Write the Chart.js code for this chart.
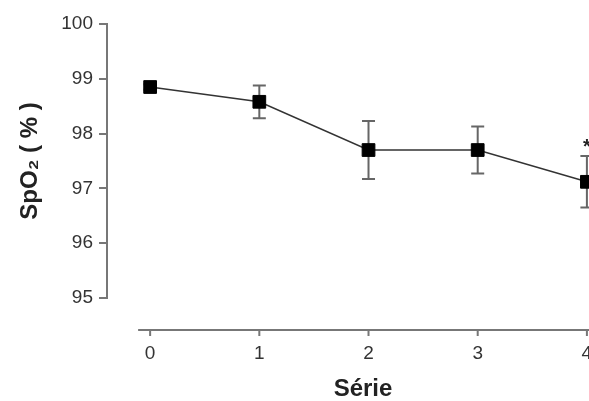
<!DOCTYPE html>
<html>
<head>
<meta charset="utf-8">
<style>
  html, body { margin: 0; padding: 0; background: #fff; overflow: hidden; width: 589px; height: 401px; }
  canvas { display: block; }
</style>
</head>
<body>
<!-- the plot runs a bit past the right edge, like the cropped original -->
<canvas id="spo2Chart" width="629" height="401"></canvas>
<script src="https://cdn.jsdelivr.net/npm/chart.js"></script>
<script>
  const series = [0, 1, 2, 3, 4]
  const spo2 = [98.85, 98.58, 97.70, 97.70, 97.12]
  const sem = [0.05, 0.30, 0.53, 0.43, 0.47]
  const starred = [false, false, false, false, true]
  const xTicks = [0, 1, 2, 3, 4]
  const yTicks = [95, 96, 97, 98, 99, 100]

  ;(() => {
    const ctx = document.getElementById('spo2Chart').getContext('2d')
    const font = "'Liberation Sans', Arial, Helvetica, sans-serif"

    // error bars under the markers, asterisk on top
    const errorBars = {
      id: 'errorBars',
      beforeDatasetsDraw(chart) {
        const { ctx, scales: { x, y } } = chart
        ctx.save()
        ctx.strokeStyle = '#666'
        ctx.lineWidth = 2
        series.forEach((s, i) => {
          const px = x.getPixelForValue(s)
          const top = y.getPixelForValue(spo2[i] + sem[i])
          const bot = y.getPixelForValue(spo2[i] - sem[i])
          ctx.beginPath()
          ctx.moveTo(px, top); ctx.lineTo(px, bot)
          ctx.moveTo(px - 6.5, top); ctx.lineTo(px + 6.5, top)
          ctx.moveTo(px - 6.5, bot); ctx.lineTo(px + 6.5, bot)
          ctx.stroke()
        })
        ctx.restore()
      },
      afterDatasetsDraw(chart) {
        const { ctx, scales: { x, y } } = chart
        ctx.save()
        ctx.fillStyle = '#222'
        ctx.font = 'bold 20px ' + font
        ctx.textAlign = 'center'
        ctx.textBaseline = 'middle'
        series.forEach((s, i) => {
          if (!starred[i]) return
          ctx.fillText('*', x.getPixelForValue(s), y.getPixelForValue(spo2[i] + sem[i]) - 9)
        })
        ctx.restore()
      }
    }

    // detached x axis line below the plot
    const xAxisLine = {
      id: 'xAxisLine',
      afterDraw(chart) {
        const { ctx, chartArea, scales: { x } } = chart
        const yy = chartArea.bottom + 32
        ctx.save()
        ctx.strokeStyle = '#777'
        ctx.lineWidth = 2
        ctx.beginPath()
        ctx.moveTo(x.getPixelForValue(-0.11), yy)
        ctx.lineTo(chart.width, yy)
        xTicks.forEach(t => {
          const px = x.getPixelForValue(t)
          ctx.moveTo(px, yy); ctx.lineTo(px, yy + 6)
        })
        ctx.stroke()
        ctx.restore()
      }
    }

    new Chart(ctx, {
      type: 'line',
      data: {
        datasets: [{
          data: series.map((s, i) => ({ x: s, y: spo2[i] })),
          borderColor: '#333',
          borderWidth: 1.5,
          pointStyle: 'rect',
          pointRadius: 9,
          pointBackgroundColor: '#000',
          pointBorderColor: '#000',
          pointBorderWidth: 1,
          tension: 0,
          clip: false
        }]
      },
      options: {
        responsive: false,
        animation: false,
        layout: { padding: { left: 12, top: 24, right: 0, bottom: 0 } },
        plugins: {
          legend: { display: false },
          tooltip: { enabled: false }
        },
        scales: {
          x: {
            type: 'linear',
            min: -0.395,
            max: 4.294,
            afterBuildTicks: s => { s.ticks = xTicks.map(v => ({ value: v })) },
            afterFit: s => { s.height = 103; s.paddingLeft = 0; s.paddingRight = 0 },
            grid: { display: false, drawTicks: false },
            border: { display: false },
            ticks: {
              padding: 44,
              color: '#333',
              font: { family: font, size: 19 },
              maxRotation: 0,
              autoSkip: false
            },
            title: {
              display: true,
              text: 'Série',
              color: '#222',
              padding: { top: 0, bottom: 0 },
              font: { family: font, size: 24, weight: 'bold', lineHeight: 1 }
            }
          },
          y: {
            min: 95,
            max: 100,
            afterBuildTicks: s => { s.ticks = yTicks.map(v => ({ value: v })) },
            afterFit: s => { s.width = 95 },
            grid: {
              drawOnChartArea: false,
              tickLength: 8,
              color: '#777',
              lineWidth: 2
            },
            border: { display: true, color: '#777', width: 2 },
            ticks: {
              padding: 6,
              color: '#333',
              font: { family: font, size: 19 }
            },
            title: {
              display: true,
              text: 'SpO₂ ( % )',
              color: '#222',
              padding: 4,
              font: { family: font, size: 24, weight: 'bold' }
            }
          }
        }
      },
      plugins: [errorBars, xAxisLine]
    })
  })()
</script>
</body>
</html>
